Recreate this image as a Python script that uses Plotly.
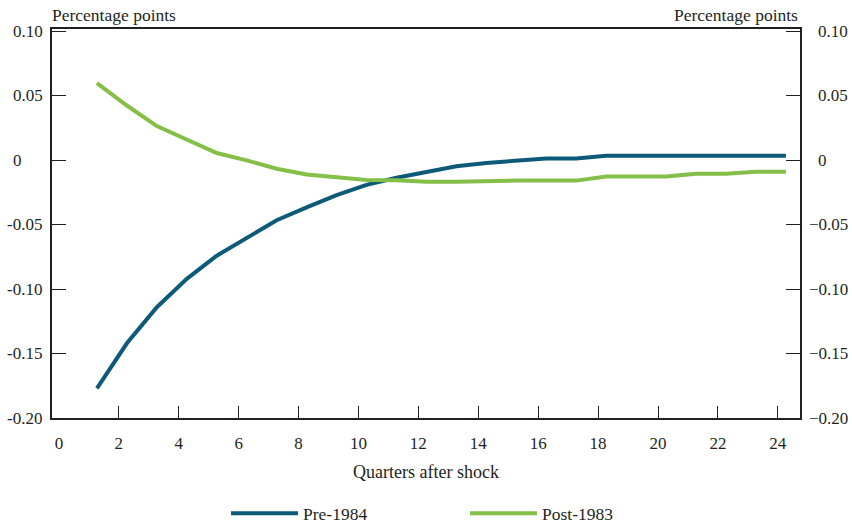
import plotly.graph_objects as go

quarters = list(range(1, 25))
pre_1984 = [-0.177, -0.142, -0.114, -0.092, -0.074, -0.060, -0.0465, -0.0365,
            -0.027, -0.019, -0.0135, -0.009, -0.0045, -0.002, 0.0, 0.0015,
            0.0015, 0.0036, 0.0036, 0.0036, 0.0036, 0.0036, 0.0036, 0.0036]
post_1983 = [0.060, 0.0426, 0.0266, 0.0163, 0.0057, 0.000, -0.0065, -0.011,
             -0.0134, -0.0152, -0.0155, -0.0165, -0.0165, -0.0158, -0.0157, -0.0157,
             -0.0157, -0.0125, -0.0125, -0.0125, -0.0103, -0.0103, -0.0088, -0.0088]
series_names = ["Pre-1984", "Post-1983"]
series_colors = ["#0d5a78", "#84bf47"]

x_tick_labels = [0, 2, 4, 6, 8, 10, 12, 14, 16, 18, 20, 22, 24]
y_tick_values = [0.10, 0.05, 0.0, -0.05, -0.10, -0.15, -0.20]
y_tick_left = ["0.10", "0.05", "0", "-0.05", "-0.10", "-0.15", "-0.20"]
y_tick_right = ["0.10", "0.05", "0", "\u22120.05", "\u22120.10", "\u22120.15", "\u22120.20"]

TICK_OFFSET = -0.27
FONT = "Liberation Serif"
TXT = "#231f20"

fig = go.Figure()
for name, vals, col in zip(series_names, [pre_1984, post_1983], series_colors):
    fig.add_trace(go.Scatter(x=quarters, y=vals, mode="lines", name=name,
                             line=dict(color=col, width=4)))

fig.update_layout(
    width=852, height=524,
    margin=dict(l=52, r=52, t=29, b=106, autoexpand=False),
    plot_bgcolor="white", paper_bgcolor="white",
    font=dict(family=FONT, size=17, color=TXT),
    showlegend=True,
    legend=dict(orientation="h", x=(226 - 52) / 748, xanchor="left",
                y=-0.245, yanchor="middle",
                font=dict(size=17.5), itemwidth=67, entrywidth=157,
                traceorder="normal"),
)

fig.update_xaxes(
    range=[-0.5, 24.47],
    tickvals=[v + TICK_OFFSET for v in x_tick_labels],
    ticktext=[str(v) for v in x_tick_labels],
    ticks="",
    minor=dict(tickmode="array",
               tickvals=[v + TICK_OFFSET for v in x_tick_labels if v > 0],
               ticks="inside", ticklen=12, tickwidth=1.3, tickcolor=TXT, showgrid=False),
    showline=True, linecolor=TXT, linewidth=2, mirror=True,
    showgrid=False, zeroline=False, automargin=False,
    ticklabelstandoff=9,
    title=dict(text="Quarters after shock", font=dict(size=18), standoff=13),
)
fig.update_yaxes(
    range=[-0.2, 0.102],
    tickvals=y_tick_values,
    showticklabels=False,
    ticks="inside", ticklen=14, tickwidth=1.3, tickcolor=TXT,
    showline=True, linecolor=TXT, linewidth=2, mirror="ticks",
    showgrid=False, zeroline=False, automargin=False,
)

for v, lt, rt in zip(y_tick_values, y_tick_left, y_tick_right):
    neg = lt.startswith("-")
    fig.add_annotation(x=0, xref="paper", y=v, yref="y", text=lt, showarrow=False,
                       xanchor="left", yanchor="middle", xshift=-41 - (6 if neg else 0))
    fig.add_annotation(x=1, xref="paper", y=v, yref="y", text=rt, showarrow=False,
                       xanchor="left", yanchor="middle", xshift=16 - (9 if neg else 0))

fig.add_annotation(x=0, xref="paper", y=1, yref="paper", text="Percentage points",
                   showarrow=False, xanchor="left", yanchor="bottom", yshift=2, xshift=-2,
                   font=dict(size=17.5))
fig.add_annotation(x=1, xref="paper", y=1, yref="paper", text="Percentage points",
                   showarrow=False, xanchor="right", yanchor="bottom", yshift=2,
                   font=dict(size=17.5))

fig.write_html("out.html", config={"displayModeBar": False},
               post_script="document.body.style.margin='0';document.body.style.padding='0';")
